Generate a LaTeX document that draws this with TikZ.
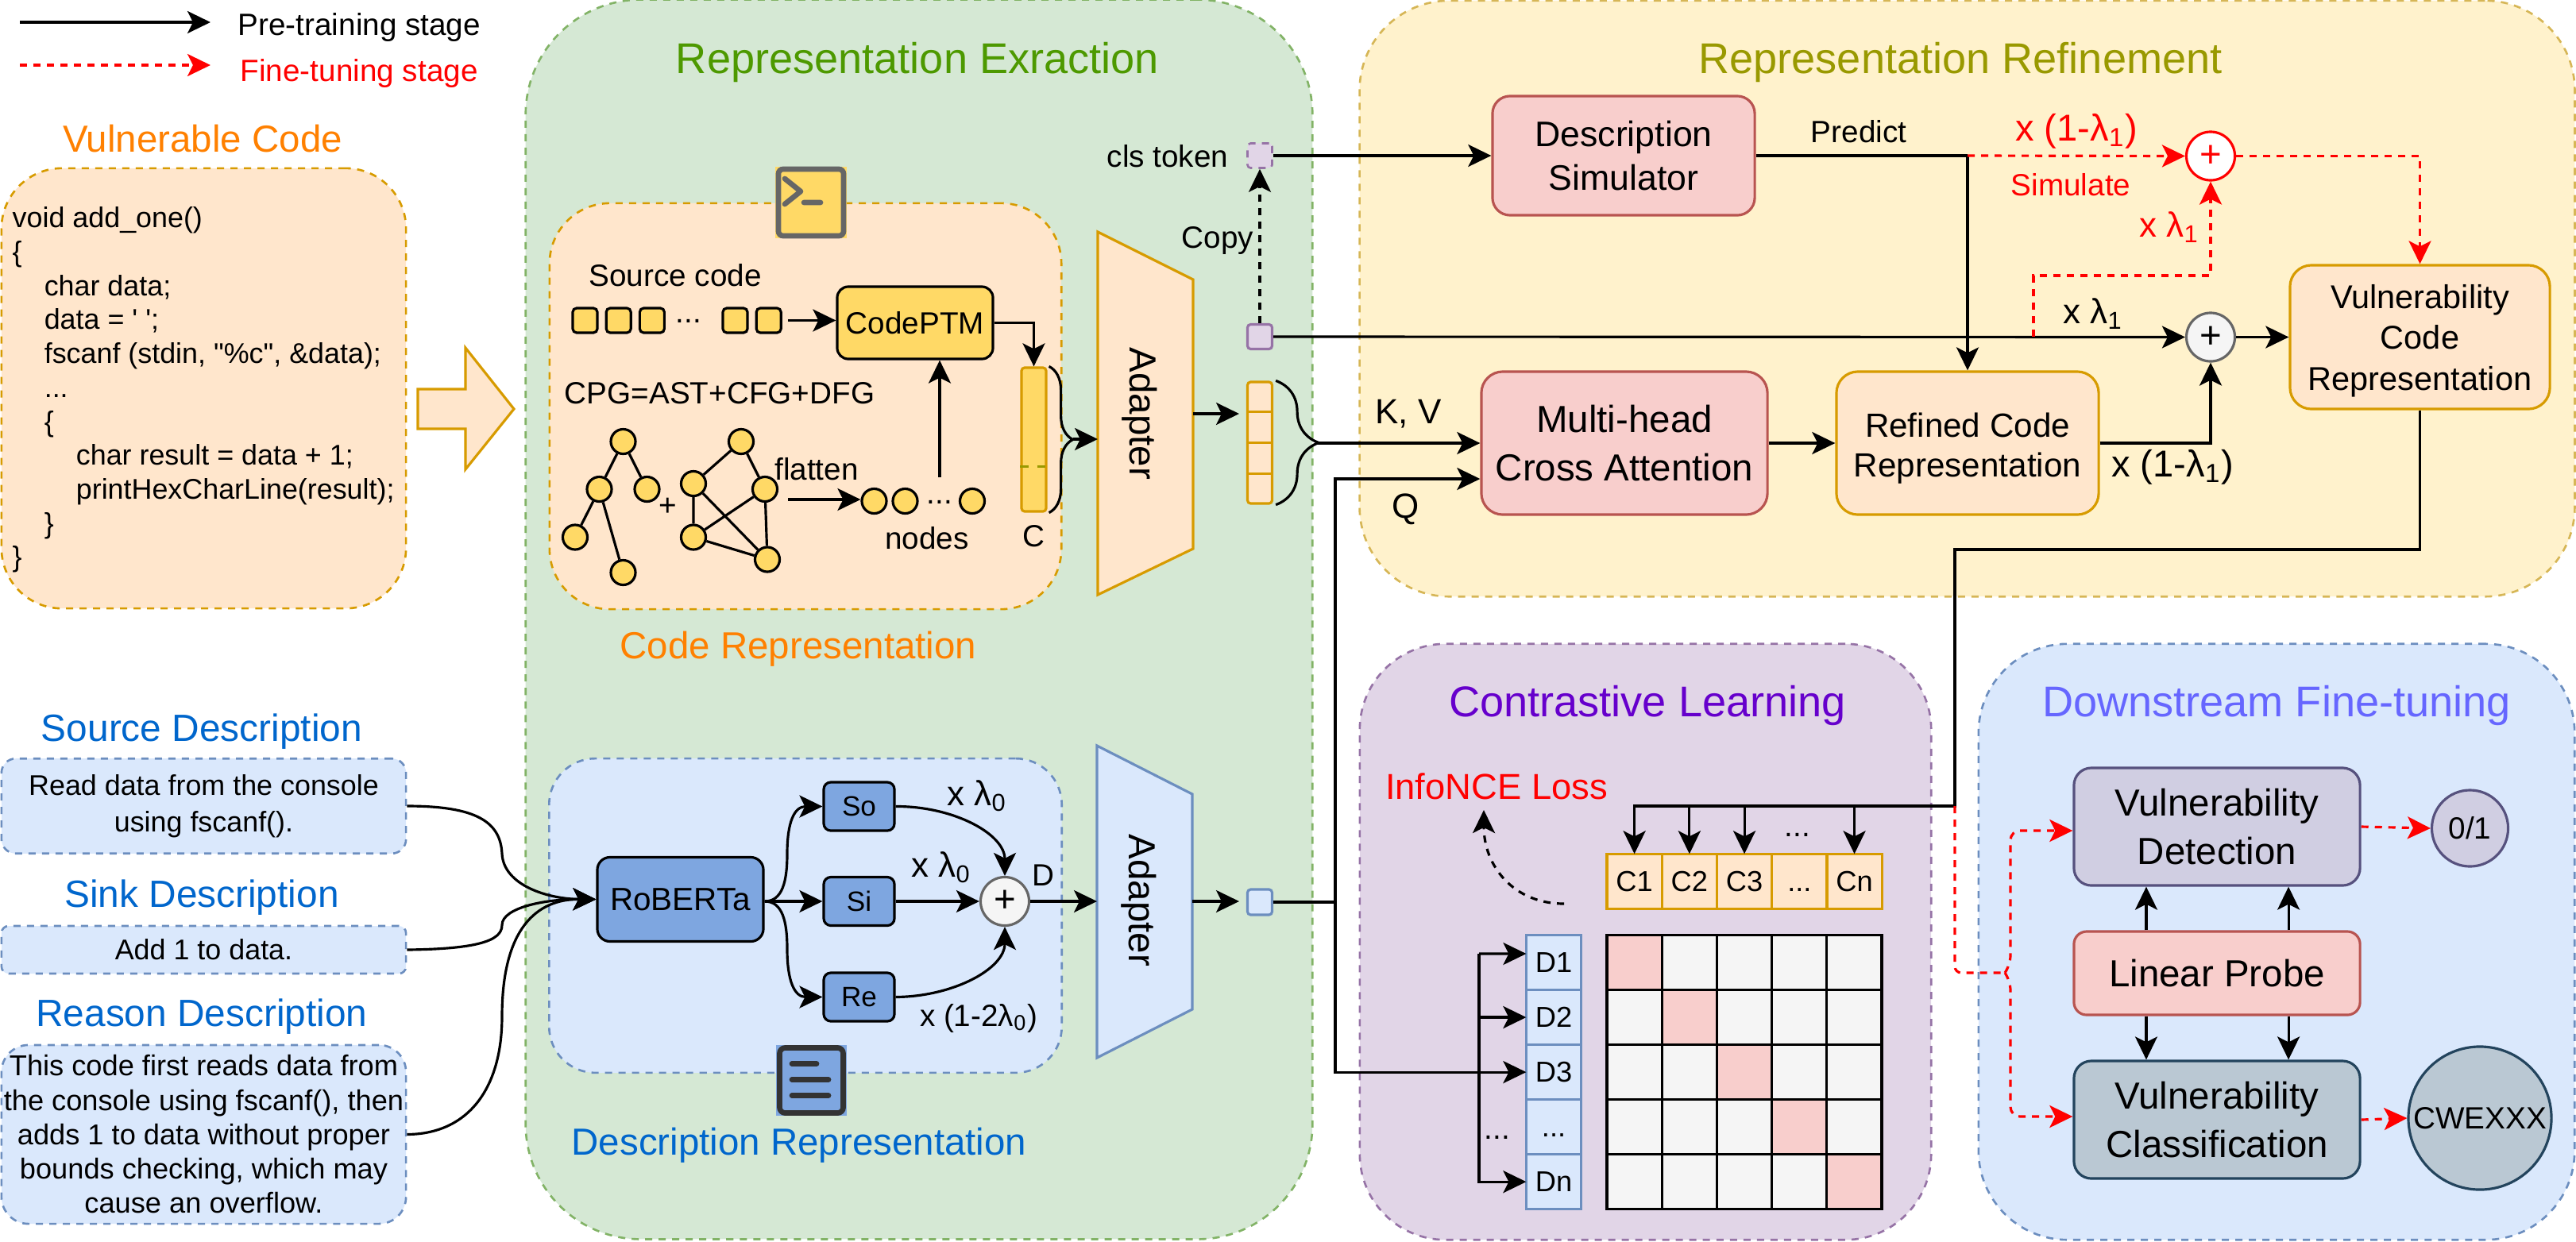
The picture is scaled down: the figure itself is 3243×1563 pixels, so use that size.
\documentclass[tikz,border=0pt]{standalone}
\usepackage{xcolor}
\usepackage{fontspec}
\setmainfont{Liberation Sans}
\newfontfamily\codefont{Liberation Sans}
\usepackage{tikz}
\usetikzlibrary{arrows.meta, positioning, shapes.geometric, calc, decorations.pathreplacing}
\definecolor{greenfill}{RGB}{213, 232, 212}
\definecolor{greenline}{RGB}{130, 179, 102}
\definecolor{yellowfill}{RGB}{255, 242, 204}
\definecolor{yellowline}{RGB}{214, 182, 86}
\definecolor{purplefill}{RGB}{225, 213, 231}
\definecolor{purpleline}{RGB}{150, 115, 166}
\definecolor{bluefill}{RGB}{218, 232, 252}
\definecolor{blueline}{RGB}{108, 142, 191}
\definecolor{orangefill}{RGB}{255, 230, 204}
\definecolor{orangeline}{RGB}{215, 155, 0}
\definecolor{redfill}{RGB}{248, 206, 204}
\definecolor{redline}{RGB}{184, 84, 80}
\definecolor{codeyellow}{RGB}{255, 217, 102}
\definecolor{robertablue}{RGB}{126, 166, 224}
\definecolor{detectfill}{RGB}{208, 206, 226}
\definecolor{detectline}{RGB}{86, 81, 126}
\definecolor{classfill}{RGB}{186, 200, 211}
\definecolor{classline}{RGB}{35, 68, 93}
\definecolor{plusfill}{RGB}{245, 245, 245}
\definecolor{plusline}{RGB}{102, 102, 102}
\definecolor{titleorange}{RGB}{255, 128, 0}
\definecolor{titlegreen}{RGB}{77, 153, 0}
\definecolor{titleolive}{RGB}{153, 153, 0}
\definecolor{titlepurple}{RGB}{102, 0, 204}
\definecolor{titleviolet}{RGB}{102, 102, 255}
\definecolor{titleblue}{RGB}{0, 102, 204}
\definecolor{finered}{RGB}{255, 0, 0}

\begin{document}
\begin{tikzpicture}[
    x=0.01cm, y=-0.01cm,
    panel/.style={draw, dash pattern=on 0.09cm off 0.08cm, line width=0.75pt, inner sep=0pt},
    box/.style={draw, line width=0.9pt, align=center, inner sep=0pt},
    lab/.style={inner sep=0pt, align=center, font=\fontsize{11}{13}\selectfont},
    labmid/.style={lab, font=\fontsize{12.5}{15}\selectfont},
    labwide/.style={lab, font=\fontsize{13.4}{16}\selectfont},
    bighead/.style={inner sep=0pt, font=\fontsize{15.4}{18}\selectfont},
    midhead/.style={inner sep=0pt, font=\fontsize{13.5}{16}\selectfont},
    sourcehead/.style={inner sep=0pt, text=titleblue, font=\fontsize{13.6}{16}\selectfont},
    descbox/.style={panel, draw=blueline, fill=bluefill, align=center, minimum width=5.09cm,
                    font=\fontsize{10.2}{12.6}\selectfont},
    tok/.style={box, rounded corners=0.05cm, fill=codeyellow, minimum size=0.31cm},
    gnode/.style={circle, draw, fill=codeyellow, line width=0.9pt, minimum size=0.31cm, inner sep=0pt},
    plusnode/.style={circle, draw, line width=0.9pt, minimum size=0.61cm, inner sep=0pt,
                     font=\fontsize{13.5}{16}\selectfont},
    part/.style={box, rounded corners=0.09cm, fill=robertablue, minimum width=0.89cm, minimum height=0.61cm,
                 font=\fontsize{10}{12}\selectfont},
    ccell/.style={draw=orangeline, fill=orangefill, line width=0.9pt, minimum width=0.692cm, minimum height=0.69cm,
                  inner sep=0pt, outer sep=0pt, font=\fontsize{10.3}{12}\selectfont},
    dcell/.style={ccell, draw=blueline, fill=bluefill},
    gcell/.style={draw=black, line width=0.9pt, minimum width=0.692cm, minimum height=0.69cm, inner sep=0pt, outer sep=0pt},
    arr/.style={line width=0.9pt, -{Stealth[length=0.29cm, width=0.28cm, inset=0.07cm]}},
    line/.style={line width=0.9pt},
    redarr/.style={arr, draw=finered, dash pattern=on 0.09cm off 0.08cm},
    redlink/.style={line, draw=finered, dash pattern=on 0.09cm off 0.08cm}
]
    \useasboundingbox (0,0) rectangle (3243,1563);

    % Panels
    \node[panel, draw=greenline, fill=greenfill, rounded corners=1.45cm, minimum width=9.9cm, minimum height=15.6cm] (reprpanel) at (1157,780) {};
    \node[panel, draw=yellowline, fill=yellowfill, rounded corners=1.13cm, minimum width=15.29cm, minimum height=7.5cm] (refinepanel) at (2476.5,376) {};
    \node[panel, draw=purpleline, fill=purplefill, rounded corners=1.08cm, minimum width=7.19cm, minimum height=7.5cm] (clpanel) at (2071.5,1186) {};
    \node[panel, draw=blueline, fill=bluefill, rounded corners=1.12cm, minimum width=7.5cm, minimum height=7.5cm] (finepanel) at (2866,1186) {};
    \node[panel, draw=orangeline, fill=orangefill, rounded corners=0.76cm, minimum width=6.44cm, minimum height=5.11cm] (codepanel) at (1014,511.5) {};
    \node[panel, draw=blueline, fill=bluefill, rounded corners=0.58cm, minimum width=6.45cm, minimum height=3.955cm] (descpanel) at (1014,1153) {};

    \node[bighead, text=titlegreen] (reprtitle) at (1155,78) {Representation Exraction};
    \node[bighead, text=titleolive] (refinetitle) at (2468,78) {Representation Refinement};
    \node[bighead, text=titlepurple] (cltitle) at (2074,888) {Contrastive Learning};
    \node[bighead, text=titleviolet] (finetitle) at (2866,888) {Downstream Fine-tuning};
    \node[midhead, text=titleorange] (codetitle) at (1005,817) {Code Representation};
    \node[midhead, text=titleblue] (desctitle) at (1006,1442) {Description Representation};

    % Legend
    \coordinate (legA) at (25,28);
    \coordinate (legB) at (265,28);
    \coordinate (legC) at (25,82);
    \coordinate (legD) at (265,82);
    \draw[arr] (legA) -- (legB);
    \draw[redarr] (legC) -- (legD);
    \node[lab, anchor=west] (pretext) at (299,34) {Pre-training stage};
    \node[lab, anchor=west, text=finered] (finetext) at (302,92) {Fine-tuning stage};

    % Inputs
    \node[midhead, text=titleorange] (vulntitle) at (255,175) {Vulnerable Code};
    \node[panel, draw=orangeline, fill=orangefill, rounded corners=0.76cm, minimum width=5.09cm, minimum height=5.54cm] (vulnbox) at (256.5,489) {};
    \node[inner sep=0pt, anchor=west, align=left, font=\codefont\fontsize{10.2}{12.15}\selectfont] (vulncode) at (15,491) {%
        void add\_one()\\
        \{\\
        \hspace*{11.4pt}char data;\\
        \hspace*{11.4pt}data = ' ';\\
        \hspace*{11.4pt}fscanf (stdin, "\%c", \&data);\\
        \hspace*{11.4pt}...\\
        \hspace*{11.4pt}\{\\
        \hspace*{22.8pt}char result = data + 1;\\
        \hspace*{22.8pt}printHexCharLine(result);\\
        \hspace*{11.4pt}\}\\
        \}};
    \draw[draw=orangeline, fill=orangefill, line width=0.9pt] (526,490) -- (586,490) -- (586,438) -- (647,515) -- (586,591) -- (586,540) -- (526,540) -- cycle;

    \node[sourcehead] (srctitle) at (254,921) {Source Description};
    \node[descbox, rounded corners=0.18cm, minimum height=1.195cm] (srcbox) at (256.5,1015) {Read data from the console\\[0.4pt]using fscanf().};
    \node[sourcehead] (sinktitle) at (254,1130) {Sink Description};
    \node[descbox, rounded corners=0.09cm, minimum height=0.6cm] (sinkbox) at (256.5,1196) {Add 1 to data.};
    \node[sourcehead] (reasontitle) at (254,1280) {Reason Description};
    \node[descbox, rounded corners=0.34cm, minimum height=2.25cm, font=\fontsize{10.3}{12.3}\selectfont] (reasonbox) at (256.5,1428.5) {This code first reads data from\\the console using fscanf(), then\\adds 1 to data without proper\\bounds checking, which may\\cause an overflow.};

    % Code representation
    \node[fill=codeyellow, inner sep=0pt, minimum width=0.89cm, minimum height=0.9cm] (termback) at (1021,255) {};
    \node[draw=plusline, rounded corners=0.06cm, line width=1.9pt, inner sep=0pt, minimum width=0.82cm, minimum height=0.84cm] (termicon) at (1021,255) {};
    \draw[draw=plusline, line width=1.9pt, line cap=round, line join=round] (988,225) -- (1008,241) -- (988,257) (1012,255) -- (1033,255);

    \node[lab] (srccode) at (850,347) {Source code};
    \node[tok] (tok1) at (736.5,403.5) {};
    \node[tok, right=0.08cm of tok1] (tok2) {};
    \node[tok, right=0.08cm of tok2] (tok3) {};
    \node[lab] (tokdots) at (867,404) {...};
    \node[tok] (tok4) at (925.5,403.5) {};
    \node[tok, right=0.08cm of tok4] (tok5) {};
    \node[box, fill=codeyellow, rounded corners=0.14cm, minimum width=1.96cm, minimum height=0.91cm, font=\fontsize{11}{13}\selectfont] (codeptm) at (1152,406.5) {CodePTM};
    \node[lab] (cpgtext) at (906,495.5) {CPG=AST+CFG+DFG};

    \node[gnode] (a) at (784.5,556) {};
    \node[gnode] (b) at (754.5,616) {};
    \node[gnode] (c) at (814.5,616) {};
    \node[gnode] (d) at (724,676.5) {};
    \node[gnode] (e) at (784.5,721) {};
    \draw[line] (a) -- (b) (a) -- (c) (b) -- (d) (b) -- (e);
    \node[lab] (plustext) at (840.5,638) {+};
    \node[gnode] (f) at (933,556) {};
    \node[gnode] (g) at (873,609) {};
    \node[gnode] (h) at (963,616) {};
    \node[gnode] (i) at (873,676.5) {};
    \node[gnode] (j) at (966,704.5) {};
    \draw[line] (f) -- (g) (f) -- (h) (g) -- (i) (g) -- (j) (h) -- (i) (h) -- (j) (i) -- (j);

    \node[lab] (flattentext) at (1028,591) {flatten};
    \node[gnode] (n1) at (1100.5,631) {};
    \node[gnode] (n2) at (1139.5,631) {};
    \node[lab] (ndots) at (1183,632) {...};
    \node[gnode] (n3) at (1224,631) {};
    \node[lab] (nodestext) at (1167,678) {nodes};
    \coordinate (flatA) at (992,629);
    \coordinate (ptmfoot) at (1183,601);

    \node[box, draw=orangeline, fill=codeyellow, rounded corners=0.04cm, minimum width=0.31cm, minimum height=1.81cm] (barC) at (1301.5,553.5) {};
    \draw[line, draw=titleolive, dashed] ($(barC.north west)!0.685!(barC.south west)$) -- ($(barC.north east)!0.685!(barC.south east)$);
    \node[lab] (ctext) at (1301,675) {C};
    \draw[line, decorate, decoration={brace, amplitude=0.3cm}] ([xshift=0.02cm]barC.north east) -- ([xshift=0.02cm]barC.south east);
    \coordinate (braceC) at (1351,553);

    \draw[arr] (tok5.east -| flatA) -- (tok5.east -| codeptm.west);
    \draw[arr] (codeptm.east) -| (barC.north);
    \draw[arr] (flatA) -- (n1.west |- flatA);
    \draw[arr] (ptmfoot) -- (ptmfoot |- codeptm.south);

    % Adapters
    \draw[draw=orangeline, fill=orangefill, line width=0.9pt] (1382,292) -- (1502,352) -- (1502,691) -- (1382,749) -- cycle;
    \node[midhead, rotate=-90] (adapC) at (1435,521) {Adapter};
    \coordinate (adapCin) at (1382,553);
    \coordinate (adapCout) at (1502,521);
    \draw[arr] (braceC) -- (adapCin);

    \node[box, draw=orangeline, fill=orangefill, rounded corners=0.04cm, minimum width=0.31cm, minimum height=1.53cm] (stack) at (1586,557.5) {};
    \foreach \f in {0.25,0.5,0.75}
        \draw[line, draw=orangeline] ($(stack.north west)!\f!(stack.south west)$) -- ($(stack.north east)!\f!(stack.south east)$);
    \coordinate (stackin) at (1560,521);
    \draw[arr] (adapCout) -- (stackin);
    \draw[line, decorate, decoration={brace, amplitude=0.54cm}] ([xshift=0.03cm]stack.north east) -- ([xshift=0.03cm]stack.south east);
    \coordinate (braceS) at (1658,558);

    \node[box, draw=purpleline, fill=purplefill, rounded corners=0.04cm, minimum width=0.31cm, minimum height=0.31cm] (copyTok) at (1586,424) {};
    \node[panel, draw=purpleline, fill=purplefill, rounded corners=0.04cm, minimum width=0.31cm, minimum height=0.31cm] (clsTok) at (1586,196) {};
    \node[lab] (clstext) at (1470,197) {cls token};
    \node[lab] (copytext) at (1533,303) {Copy};
    \draw[arr, dash pattern=on 0.09cm off 0.08cm] (copyTok) -- (clsTok);

    % Description representation
    \node[fill=robertablue, inner sep=0pt, minimum width=0.895cm, minimum height=0.89cm] (noteback) at (1021.5,1360.5) {};
    \node[draw=black!80, rounded corners=0.07cm, line width=1.9pt, inner sep=0pt, minimum width=0.8cm, minimum height=0.82cm] (noteicon) at (1021.5,1360.5) {};
    \draw[draw=black!80, line width=1.9pt, line cap=round] (997,1339.5) -- (1028,1339.5) (997,1359.5) -- (1043,1359.5) (997,1379.5) -- (1043,1379.5);

    \node[box, fill=robertablue, rounded corners=0.16cm, minimum width=2.09cm, minimum height=1.06cm, font=\fontsize{11.5}{13}\selectfont] (roberta) at (856.5,1132.5) {RoBERTa};
    \node[part] (so) at (1081.5,1015.5) {So};
    \node[part] (si) at (1081.5,1135) {Si};
    \node[part] (re) at (1081.5,1255.5) {Re};
    \node[plusnode, draw=plusline, fill=plusfill] (plusD) at (1265,1135) {+};
    \node[labmid] (lamSo) at (1230,1002) {x λ\textsubscript{0}};
    \node[labmid] (lamSi) at (1185,1092) {x λ\textsubscript{0}};
    \node[lab] (lamRe) at (1232,1282) {x (1-2λ\textsubscript{0})};
    \node[lab] (dtext) at (1313,1102) {D};

    \draw[arr] (srcbox.east) .. controls (600,1015) and (630,1035) .. (632,1075) .. controls (634,1115) and (690,1132) .. (roberta.west);
    \draw[arr] (sinkbox.east) .. controls (600,1195) and (632,1185) .. (632,1165) .. controls (632,1142) and (690,1132) .. (roberta.west);
    \draw[arr] (reasonbox.east) .. controls (590,1428) and (632,1370) .. (632,1280) .. controls (632,1170) and (675,1132) .. (roberta.west);
    \draw[arr] (roberta.east |- si.west) .. controls (985,1135) and (991,1110) .. (991,1075) .. controls (991,1035) and (1000,1015.5) .. (so.west);
    \draw[arr] (roberta.east |- si.west) -- (si.west);
    \draw[arr] (roberta.east |- si.west) .. controls (985,1135) and (991,1160) .. (991,1195) .. controls (991,1235) and (1000,1255.5) .. (re.west);
    \draw[arr] (so.east) .. controls (1200,1015) and (1265,1050) .. (plusD.north);
    \draw[arr] (si.east) -- (plusD.west);
    \draw[arr] (re.east) .. controls (1200,1255) and (1265,1220) .. (plusD.south);

    \draw[draw=blueline, fill=bluefill, line width=0.9pt] (1381,939) -- (1501,1000) -- (1501,1271) -- (1381,1332) -- cycle;
    \node[midhead, rotate=-90] (adapD) at (1434,1134) {Adapter};
    \coordinate (adapDin) at (1381,1135);
    \coordinate (adapDout) at (1501,1135);
    \draw[arr] (plusD.east) -- (adapDin);
    \node[box, draw=blueline, fill=bluefill, rounded corners=0.04cm, minimum width=0.31cm, minimum height=0.32cm] (descTok) at (1586,1136) {};
    \coordinate (descin) at (1560,1135);
    \draw[arr] (adapDout) -- (descin);
    \coordinate (splitD) at (1681,1136);

    % Refinement
    \node[box, draw=redline, fill=redfill, rounded corners=0.22cm, minimum width=3.3cm, minimum height=1.5cm, font=\fontsize{12.7}{15.4}\selectfont] (simulator) at (2044,196) {Description\\Simulator};
    \node[box, draw=redline, fill=redfill, rounded corners=0.27cm, minimum width=3.6cm, minimum height=1.8cm, font=\fontsize{13.5}{17.2}\selectfont] (crossatt) at (2045,558) {Multi-head\\Cross Attention};
    \node[box, draw=orangeline, fill=orangefill, rounded corners=0.27cm, minimum width=3.3cm, minimum height=1.8cm, font=\fontsize{12}{14.3}\selectfont] (refined) at (2477,558) {\rule{0pt}{12.3pt}Refined Code\\Representation};
    \node[box, draw=orangeline, fill=orangefill, rounded corners=0.27cm, minimum width=3.27cm, minimum height=1.81cm, font=\fontsize{11.8}{14.6}\selectfont] (vcr) at (3046.5,424.5) {\rule{0pt}{11.2pt}Vulnerability\\Code\\Representation};
    \node[plusnode, draw=finered, fill=white, text=finered] (plusR) at (2783,196.5) {+};
    \node[plusnode, draw=plusline, fill=plusfill] (plusV) at (2783,424.5) {+};

    \node[lab] (predtext) at (2340,166) {Predict};
    \node[labwide, text=finered] (lamRedA) at (2614,165) {x (1-λ\textsubscript{1})};
    \node[lab, text=finered] (simtext) at (2607,233) {Simulate};
    \node[labmid, text=finered] (lamRedB) at (2731,286) {x λ\textsubscript{1}};
    \node[labmid] (lamBlackA) at (2635,395) {x λ\textsubscript{1}};
    \node[labwide] (lamBlackB) at (2735,588) {x (1-λ\textsubscript{1})};
    \node[labmid] (kvtext) at (1773,521) {K, V};
    \node[labmid] (qtext) at (1770,641) {Q};

    \draw[arr] (clsTok.east) -- (simulator.west);
    \draw[arr] (copyTok.east) -- (plusV.west);
    \coordinate (predturn) at (refined.north |- simulator.east);
    \draw[line] (simulator.east) -- (predturn);
    \draw[arr] (predturn) -- (refined.north);
    \draw[redarr] (predturn) -- (plusR.west);
    \coordinate (simup) at (2560,424);
    \draw[redarr] (simup) -- (2560,347) -| (plusR.south);
    \draw[redarr] (plusR.east) -| (vcr.north);
    \draw[arr] (plusV.east) -- (vcr.west);
    \draw[arr] (braceS) -- (crossatt.west);
    \draw[arr] (crossatt.east) -- (refined.west);
    \draw[arr] (refined.east) -| (plusV.south);
    \draw[line] (descTok.east) -- (splitD);
    \draw[arr] (splitD) |- ([yshift=-0.45cm]crossatt.west);

    % Contrastive learning
    \node[labmid, text=finered, font=\fontsize{12.9}{15}\selectfont] (lossname) at (1884,990) {InfoNCE Loss};
    \node[ccell] (C1) at (2057.6,1109.8) {C1};
    \node[ccell, right=0pt of C1] (C2) {C2};
    \node[ccell, right=0pt of C2] (C3) {C3};
    \node[ccell, right=0pt of C3] (C4) {\vphantom{C}...};
    \node[ccell, right=0pt of C4] (Cn) {Cn};
    \node[dcell] (D1) at (1956,1212) {D1};
    \node[dcell, below=0pt of D1] (D2) {D2};
    \node[dcell, below=0pt of D2] (D3) {D3};
    \node[dcell, below=0pt of D3] (D4) {\vphantom{D}...};
    \node[dcell, below=0pt of D4] (Dn) {Dn};
    \foreach \r in {1,...,5}
        \foreach \c in {1,...,5}
            \node[gcell, fill=plusfill] (g\r\c) at ({2057.6+(\c-1)*69.2},{1212+(\r-1)*69}) {};
    \foreach \d in {1,...,5}
        \node[gcell, fill=redfill] at (g\d\d) {};

    \coordinate (busC) at (2461,1015);
    \draw[arr] (vcr.south) |- (2461,692) -- (busC) -| (C1.north);
    \draw[arr] (C2.north |- busC) -- (C2.north);
    \draw[arr] (C3.north |- busC) -- (C3.north);
    \draw[arr] (Cn.north |- busC) -- (Cn.north);
    \node[lab] (cdots) at (2263,1051) {...};
    \coordinate (busD) at (1862,1201);
    \draw[arr] (busD) -- ([yshift=0.11cm]D1.west);
    \draw[arr] (busD) |- (Dn.west);
    \draw[arr] (D2.west -| busD) -- (D2.west);
    \draw[arr] (splitD) |- (D3.west);
    \node[lab] (ddots) at (1885,1432) {...};
    \coordinate (lossA) at (1969,1138);
    \coordinate (lossB) at (1868,1020);
    \draw[arr, dash pattern=on 0.09cm off 0.08cm] (lossA) .. controls (1905,1138) and (1868,1090) .. (lossB);

    % Downstream fine-tuning
    \node[box, draw=detectline, fill=detectfill, rounded corners=0.22cm, minimum width=3.6cm, minimum height=1.48cm, font=\fontsize{13.5}{17.3}\selectfont] (detect) at (2791,1041) {Vulnerability\\Detection};
    \node[box, draw=redline, fill=redfill, rounded corners=0.16cm, minimum width=3.6cm, minimum height=1.05cm, font=\fontsize{13.5}{17}\selectfont] (probe) at (2791,1225.5) {Linear Probe};
    \node[box, draw=classline, fill=classfill, rounded corners=0.22cm, minimum width=3.6cm, minimum height=1.48cm, font=\fontsize{13.5}{17.3}\selectfont] (classify) at (2791,1410) {Vulnerability\\Classification};
    \node[gnode, draw=detectline, fill=detectfill, minimum size=0.96cm, font=\fontsize{11}{13}\selectfont] (binout) at (3109.5,1043) {0/1};
    \node[gnode, draw=classline, fill=classfill, minimum size=1.8cm, font=\fontsize{11}{13}\selectfont] (cweout) at (3122,1408) {CWEXXX};

    \draw[arr] ([xshift=-0.89cm]probe.north) -- ([xshift=-0.89cm]detect.south);
    \draw[arr] ([xshift=0.9cm]probe.north) -- ([xshift=0.9cm]detect.south);
    \draw[arr] ([xshift=-0.89cm]probe.south) -- ([xshift=-0.89cm]classify.north);
    \draw[arr] ([xshift=0.9cm]probe.south) -- ([xshift=0.9cm]classify.north);
    \draw[redarr] (detect.east) -- (binout.west);
    \draw[redarr] (classify.east) -- (cweout.west);

    \coordinate (forkF) at (2524,1225);
    \draw[redlink, rounded corners=0.08cm] (busC) -- (2461,1225) -- (forkF);
    \draw[redarr, rounded corners=0.12cm] (forkF) -- (2531,1215) -- (2531,1046) -- ([yshift=-0.05cm]detect.west);
    \draw[redarr, rounded corners=0.12cm] (forkF) -- (2531,1235) -- (2531,1406) -- ([yshift=0.04cm]classify.west);
\end{tikzpicture}
\end{document}
